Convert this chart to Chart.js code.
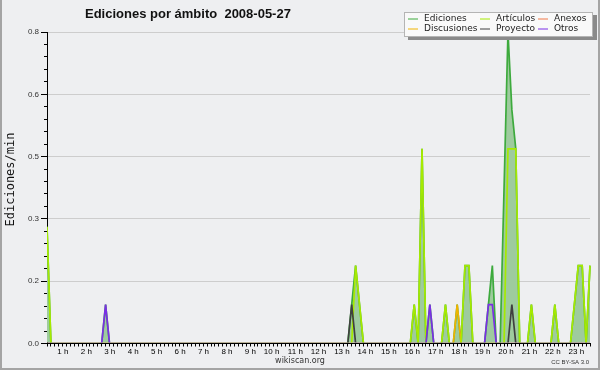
<!DOCTYPE html>
<html><head><meta charset="utf-8">
<script src="https://cdn.jsdelivr.net/npm/chart.js@4.4.0/dist/chart.umd.min.js"></script>
<style>html,body{margin:0;padding:0;background:#eeeff1;}canvas{display:block;}</style>
</head><body>
<canvas id="c" width="600" height="370"></canvas>
<script>
// ---------- data ----------
const TITLE = 'Ediciones por ámbito  2008-05-27';
const Y_TITLE = 'Ediciones/min';
const FOOTER = 'wikiscan.org';
const LICENSE = 'CC BY-SA 3.0';
const SERIES_NAMES = ['Ediciones', 'Discusiones', 'Artículos', 'Proyecto', 'Anexos', 'Otros'];
const Y_MAX = 0.8;
const Y_TICK_LABELS = ['0.0', '0.2', '0.3', '0.5', '0.6', '0.8'];
const X_TICK_LABELS = ['1 h','2 h','3 h','4 h','5 h','6 h','7 h','8 h','9 h','10 h','11 h','12 h',
  '13 h','14 h','15 h','16 h','17 h','18 h','19 h','20 h','21 h','22 h','23 h'];

// edits per minute, one value per 10-minute slot (00:00 ... 23:10), one row per hour
const ediciones = [
  0.3,0,0,0,0,0,  0,0,0,0,0,0,  0,0,0,0.1,0,0,  0,0,0,0,0,0,  0,0,0,0,0,0,  0,0,0,0,0,0,
  0,0,0,0,0,0,  0,0,0,0,0,0,  0,0,0,0,0,0,  0,0,0,0,0,0,  0,0,0,0,0,0,  0,0,0,0,0,0,
  0,0,0,0,0,0,  0.1,0.2,0.1,0,0,0,  0,0,0,0,0,0,  0,0,0,0,0.1,0,  0.5,0,0.1,0,0,0,  0.1,0,0,0.1,0,0.2,
  0.2,0,0,0,0,0.1,  0.2,0,0,0.4,0.8,0.6,  0.5,0,0,0,0.1,0,  0,0,0,0,0.1,0,  0,0,0,0.1,0.2,0.2,  0,0.2
];
const discusiones = [
  0,0,0,0,0,0,  0,0,0,0,0,0,  0,0,0,0,0,0,  0,0,0,0,0,0,  0,0,0,0,0,0,  0,0,0,0,0,0,
  0,0,0,0,0,0,  0,0,0,0,0,0,  0,0,0,0,0,0,  0,0,0,0,0,0,  0,0,0,0,0,0,  0,0,0,0,0,0,
  0,0,0,0,0,0,  0,0,0,0,0,0,  0,0,0,0,0,0,  0,0,0,0,0,0,  0,0,0,0,0,0,  0,0,0,0.1,0,0,
  0,0,0,0,0,0,  0,0,0,0,0,0,  0,0,0,0,0,0,  0,0,0,0,0,0,  0,0,0,0,0,0,  0,0
];
const articulos = [
  0.3,0,0,0,0,0,  0,0,0,0,0,0,  0,0,0,0,0,0,  0,0,0,0,0,0,  0,0,0,0,0,0,  0,0,0,0,0,0,
  0,0,0,0,0,0,  0,0,0,0,0,0,  0,0,0,0,0,0,  0,0,0,0,0,0,  0,0,0,0,0,0,  0,0,0,0,0,0,
  0,0,0,0,0,0,  0,0.2,0.1,0,0,0,  0,0,0,0,0,0,  0,0,0,0,0.1,0,  0.5,0,0,0,0,0,  0.1,0,0,0,0,0.2,
  0.2,0,0,0,0,0,  0,0,0,0,0.5,0.5,  0.5,0,0,0,0.1,0,  0,0,0,0,0.1,0,  0,0,0,0.1,0.2,0.2,  0,0.2
];
const proyecto = [
  0,0,0,0,0,0,  0,0,0,0,0,0,  0,0,0,0,0,0,  0,0,0,0,0,0,  0,0,0,0,0,0,  0,0,0,0,0,0,
  0,0,0,0,0,0,  0,0,0,0,0,0,  0,0,0,0,0,0,  0,0,0,0,0,0,  0,0,0,0,0,0,  0,0,0,0,0,0,
  0,0,0,0,0,0,  0.1,0,0,0,0,0,  0,0,0,0,0,0,  0,0,0,0,0,0,  0,0,0,0,0,0,  0,0,0,0,0,0,
  0,0,0,0,0,0,  0,0,0,0,0,0.1,  0,0,0,0,0,0,  0,0,0,0,0,0,  0,0,0,0,0,0,  0,0
];
const anexos = [
  0,0,0,0,0,0,  0,0,0,0,0,0,  0,0,0,0,0,0,  0,0,0,0,0,0,  0,0,0,0,0,0,  0,0,0,0,0,0,
  0,0,0,0,0,0,  0,0,0,0,0,0,  0,0,0,0,0,0,  0,0,0,0,0,0,  0,0,0,0,0,0,  0,0,0,0,0,0,
  0,0,0,0,0,0,  0,0,0,0,0,0,  0,0,0,0,0,0,  0,0,0,0,0,0,  0,0,0,0,0,0,  0,0,0,0,0,0,
  0,0,0,0,0,0,  0,0,0,0,0,0,  0,0,0,0,0,0,  0,0,0,0,0,0,  0,0,0,0,0,0,  0,0
];
const otros = [
  0,0,0,0,0,0,  0,0,0,0,0,0,  0,0,0,0.1,0,0,  0,0,0,0,0,0,  0,0,0,0,0,0,  0,0,0,0,0,0,
  0,0,0,0,0,0,  0,0,0,0,0,0,  0,0,0,0,0,0,  0,0,0,0,0,0,  0,0,0,0,0,0,  0,0,0,0,0,0,
  0,0,0,0,0,0,  0,0,0,0,0,0,  0,0,0,0,0,0,  0,0,0,0,0,0,  0,0,0.1,0,0,0,  0,0,0,0,0,0,
  0,0,0,0,0,0.1,  0.1,0,0,0,0,0,  0,0,0,0,0,0,  0,0,0,0,0,0,  0,0,0,0,0,0,  0,0
];

// category labels: the 10-minute slots
const SLOT_TIMES = ediciones.map((_, i) =>
  String(Math.floor(i / 6)).padStart(2, '0') + ':' + String((i % 6) * 10).padStart(2, '0'));

// ---------- styles ----------
const STYLE = {
  'Ediciones':   {color: '#3daa3d', order: 6, fill: 'rgb(158,203,158)'},
  'Discusiones': {color: '#f0b400', order: 4},
  'Artículos':   {color: '#a6ea00', order: 3},
  'Proyecto':    {color: '#404040', order: 2},
  'Anexos':      {color: '#f07848', order: 5},
  'Otros':       {color: '#7a2ee6', order: 1}
};
const SERIES = [ediciones, discusiones, articulos, proyecto, anexos, otros];
const MINOR_PER_MAJOR = 5;

const datasets = SERIES_NAMES.map((name, k) => ({
  label: name,
  data: SERIES[k],
  borderColor: STYLE[name].color,
  backgroundColor: STYLE[name].fill || 'transparent',
  fill: STYLE[name].fill ? 'origin' : false,
  borderWidth: 1.7,
  pointRadius: 0,
  tension: 0,
  order: STYLE[name].order,
  clip: {left: 0, top: 2, right: 2, bottom: -1}
}));

const decor = {
  id: 'decor',
  beforeDraw(chart) {
    const ctx = chart.ctx, W = chart.width, H = chart.height;
    ctx.save();
    ctx.fillStyle = '#eeeff1';
    ctx.fillRect(0, 0, W, H);
    ctx.fillStyle = '#a4a4a4';
    ctx.fillRect(0, 0, 2, H);
    ctx.fillRect(W - 2, 0, 2, H);
    ctx.fillRect(0, H - 2, W, 2);
    ctx.restore();
  },
  afterDraw(chart) {
    const ctx = chart.ctx, ys = chart.scales.y, left = chart.chartArea.left;
    ctx.save();
    // minor y ticks
    ctx.strokeStyle = '#000';
    ctx.lineWidth = 1;
    ys.ticks.forEach((t, i) => {
      if (i % MINOR_PER_MAJOR) {
        const py = Math.round(ys.getPixelForValue(t.value) - 0.5) + 0.5;
        ctx.beginPath(); ctx.moveTo(left - 3, py); ctx.lineTo(left, py); ctx.stroke();
      }
    });
    // title
    ctx.fillStyle = '#111';
    ctx.font = 'bold 13px "Liberation Sans", Arial, sans-serif';
    ctx.textAlign = 'left'; ctx.textBaseline = 'alphabetic';
    ctx.fillText(TITLE, 85, 18);
    // footer
    ctx.fillStyle = '#333';
    ctx.font = '8px "DejaVu Sans", sans-serif';
    ctx.textAlign = 'center'; ctx.textBaseline = 'middle';
    ctx.fillText(FOOTER, 300, 361);
    ctx.font = '6px "Liberation Sans", sans-serif';
    ctx.textAlign = 'right';
    ctx.fillText(LICENSE, 589, 362);
    // y title
    ctx.save();
    ctx.translate(11, 179.5);
    ctx.rotate(-Math.PI / 2);
    ctx.fillStyle = '#111';
    ctx.font = '12px "DejaVu Sans Mono", monospace';
    ctx.textAlign = 'center'; ctx.textBaseline = 'middle';
    ctx.fillText(Y_TITLE, 0, 0);
    ctx.restore();
    // legend box with shadow
    const bx = 404, by = 12, bw = 189, bh = 25;
    ctx.fillStyle = '#8a8a8a';
    ctx.fillRect(bx + 4, by + 3, bw, bh);
    ctx.fillStyle = '#f9f9f9';
    ctx.fillRect(bx, by, bw, bh);
    ctx.strokeStyle = '#b4b4b4';
    ctx.strokeRect(bx + 0.5, by + 0.5, bw - 1, bh - 1);
    const colX = [408, 480, 538], rowY = [19, 29];
    ctx.font = '9px "DejaVu Sans", sans-serif';
    ctx.textAlign = 'left'; ctx.textBaseline = 'middle';
    chart.data.datasets.forEach((ds, k) => {
      const cx = colX[Math.floor(k / 2)], cy = rowY[k % 2];
      ctx.strokeStyle = ds.borderColor;
      ctx.lineWidth = 1;
      ctx.beginPath(); ctx.moveTo(cx, cy); ctx.lineTo(cx + 10, cy); ctx.stroke();
      ctx.fillStyle = '#222';
      ctx.fillText(ds.label, cx + 16, cy);
    });
    ctx.restore();
  }
};

new Chart(document.getElementById('c'), {
  type: 'line',
  data: {labels: SLOT_TIMES, datasets},
  plugins: [decor],
  options: {
    responsive: false,
    animation: false,
    devicePixelRatio: 1,
    layout: {padding: {top: 32, right: 10, left: 0, bottom: 0}},
    plugins: {legend: {display: false}, tooltip: {enabled: false}, title: {display: false}},
    elements: {line: {borderJoinStyle: 'miter'}},
    scales: {
      x: {
        type: 'category',
        offset: false,
        z: 1,
        grid: {display: true, drawOnChartArea: false, drawTicks: true, tickLength: 3, color: '#000', lineWidth: 1, offset: false},
        border: {display: true, color: '#000', width: 1},
        ticks: {
          autoSkip: false, maxRotation: 0, minRotation: 0, align: 'end', labelOffset: -2, padding: 0,
          color: '#000', font: {family: '"Liberation Sans", Arial, sans-serif', size: 8},
          callback: (v, i) => (i % 6 === 0 && i > 0) ? X_TICK_LABELS[i / 6 - 1] : ''
        },
        afterFit: s => { s.height = 26.5; }
      },
      y: {
        type: 'linear',
        min: 0, max: Y_MAX,
        afterBuildTicks: s => {
          const n = (Y_TICK_LABELS.length - 1) * MINOR_PER_MAJOR;
          s.ticks = Array.from({length: n + 1}, (_, i) => ({value: Y_MAX * i / n}));
        },
        grid: {
          drawOnChartArea: true, drawTicks: true, tickLength: 6, lineWidth: 1,
          color: c => (c.index % MINOR_PER_MAJOR === 0 && c.index > 0) ? '#cdcdcd' : 'rgba(0,0,0,0)',
          tickColor: c => (c.index % MINOR_PER_MAJOR === 0) ? '#000' : 'rgba(0,0,0,0)'
        },
        border: {display: true, color: '#000', width: 1},
        ticks: {
          autoSkip: false, padding: 2, color: '#333',
          font: {family: '"Liberation Sans", Arial, sans-serif', size: 8},
          callback: (v, i) => (i % MINOR_PER_MAJOR === 0) ? Y_TICK_LABELS[i / MINOR_PER_MAJOR] : ''
        },
        afterFit: s => { s.width = 47; }
      }
    }
  }
});
</script>
</body></html>
